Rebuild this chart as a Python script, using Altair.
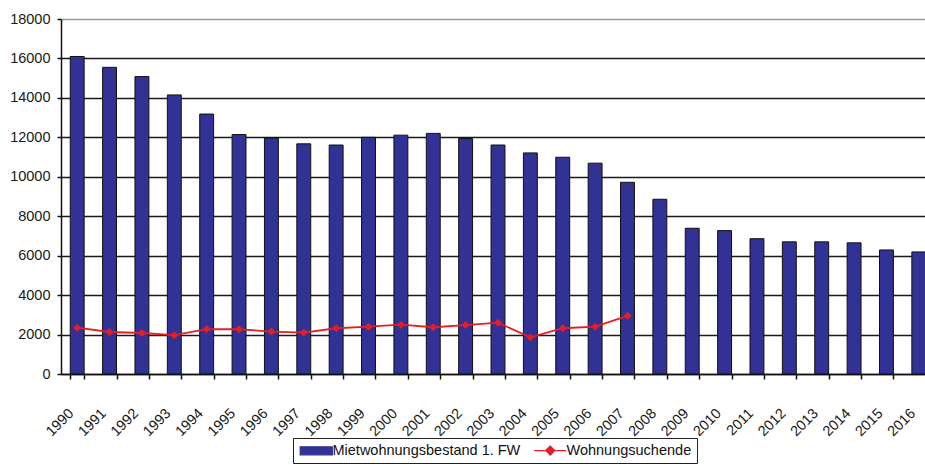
import altair as alt
import pandas as pd

years = ["1990", "1991", "1992", "1993", "1994", "1995", "1996", "1997", "1998",
         "1999", "2000", "2001", "2002", "2003", "2004", "2005", "2006", "2007",
         "2008", "2009", "2010", "2011", "2012", "2013", "2014", "2015", "2016"]
bestand = [16100, 15550, 15080, 14150, 13180, 12140, 11960, 11670, 11610,
           12000, 12110, 12200, 11940, 11610, 11210, 10990, 10690, 9720,
           8860, 7390, 7270, 6860, 6700, 6700, 6650, 6290, 6190]
suchende_years = ["1990", "1991", "1992", "1993", "1994", "1995", "1996", "1997", "1998",
                  "1999", "2000", "2001", "2002", "2003", "2004", "2005", "2006", "2007"]
suchende = [2350, 2130, 2080, 1970, 2280, 2270, 2150, 2100, 2320,
            2400, 2500, 2370, 2480, 2600, 1860, 2320, 2400, 2950]
y_ticks = [0, 2000, 4000, 6000, 8000, 10000, 12000, 14000, 16000, 18000]

S1 = "Mietwohnungsbestand 1. FW"
S2 = "Wohnungsuchende"

bars_df = pd.DataFrame({"Jahr": years, "Wert": bestand, "Reihe": S1})
line_df = pd.DataFrame({"Jahr": suchende_years, "Wert": suchende, "Reihe": S2})

FONT = "Liberation Sans"
BAR = "#313196"
RED = "#E41E26"
BAR_PATH = "M-3.2,-0.8H3.2V0.8H-3.2Z"
LINE_PATH = "M-3.2,0H3.2M-0.9,0L0,-0.9L0.9,0L0,0.9Z"

x = alt.X(
    "Jahr:N", title=None,
    scale=alt.Scale(domain=years, range=[0, 874], paddingInner=0.57, paddingOuter=0.285),
    axis=alt.Axis(labelAngle=-45, labelAlign="right", labelBaseline="top",
                  labelFontSize=14.5, labelFont=FONT, labelColor="#1a1a1a",
                  tickBand="extent", tickSize=5, tickColor="#111", tickWidth=1.5,
                  domainColor="#111", domainWidth=1.5, labelPadding=27, labelOffset=-11,
                  grid=False),
)
y = alt.Y(
    "Wert:Q", title=None,
    scale=alt.Scale(domain=[0, 18000], nice=False),
    axis=alt.Axis(values=y_ticks, labelFontSize=14.5, labelFont=FONT, labelColor="#1a1a1a",
                  tickSize=4, tickColor="#111", tickWidth=1.5, domainColor="#111",
                  domainWidth=1.5, labelPadding=7, grid=True,
                  gridColor={"condition": {"test": "datum.value == 18000", "value": "#999"},
                             "value": "#1a1a1a"},
                  gridWidth=1.5, format="d"),
)
legend = alt.Legend(
    title=None, orient="none", legendX=232, legendY=419, direction="horizontal",
    columns=2, columnPadding=10, labelFont=FONT, labelFontSize=14.5, labelColor="#111",
    labelLimit=0, symbolSize=100,
    symbolType={"expr": f"datum.value == '{S2}' ? '{LINE_PATH}' : '{BAR_PATH}'"},
    symbolStrokeColor={"expr": f"datum.value == '{S2}' ? '{RED}' : '#111'"},
    symbolFillColor={"expr": f"datum.value == '{S2}' ? '{RED}' : '{BAR}'"},
    symbolStrokeWidth=1.3, symbolOffset=11, labelOffset=9,
    strokeColor="#222", fillColor="white", padding=5,
)
color = alt.Color("Reihe:N", scale=alt.Scale(domain=[S1, S2], range=[BAR, RED]), legend=legend)

bars = alt.Chart(bars_df).mark_bar(stroke="#111", strokeWidth=1).encode(x=x, y=y, color=color)
line = alt.Chart(line_df).mark_line(
    strokeWidth=1.8,
    point=alt.OverlayMarkDef(shape="diamond", size=64, filled=True, color=RED),
).encode(x=x, y=y, color=color)

chart = alt.layer(bars, line).properties(
    width=864, height=355,
    padding={"left": 61, "top": 19, "right": 0, "bottom": 91},
    autosize=alt.AutoSizeParams(type="none"),
).configure_view(stroke=None).configure(font=FONT, background="white")

chart.save("out.html", embed_options={"renderer": "svg", "actions": False})
